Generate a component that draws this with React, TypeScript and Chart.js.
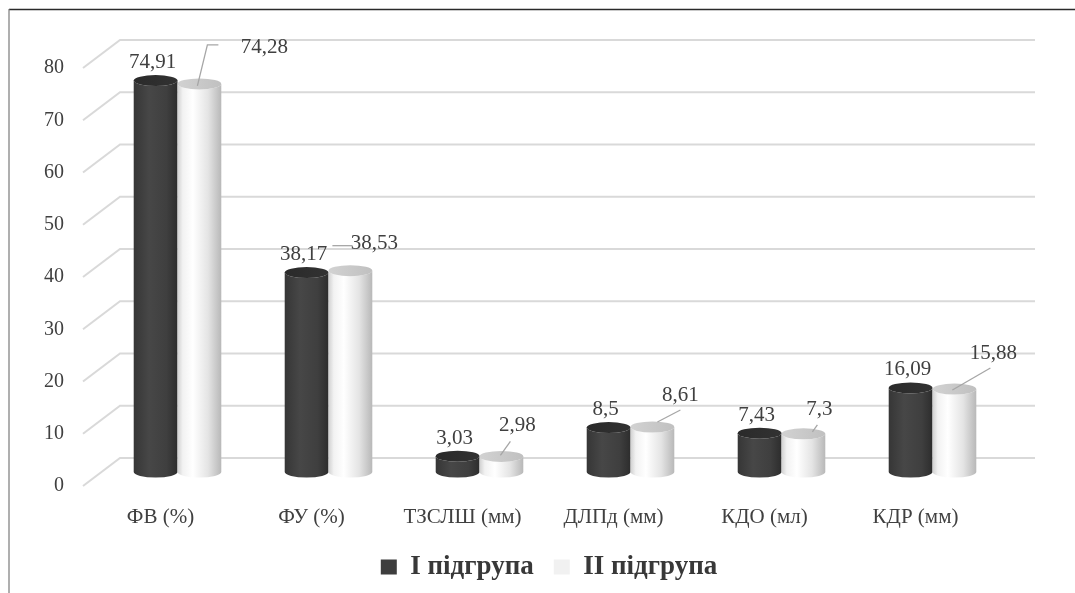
import React, { useEffect, useRef } from "react";
import { Chart, registerables } from "chart.js";

Chart.register(...registerables);

// ---- data ----
const categories = ["ФВ (%)", "ФУ (%)", "ТЗСЛШ (мм)", "ДЛПд (мм)", "КДО (мл)", "КДР (мм)"];
const group1Values = [74.91, 38.17, 3.03, 8.5, 7.43, 16.09];
const group2Values = [74.28, 38.53, 2.98, 8.61, 7.3, 15.88];
const seriesNames = ["І підгрупа", "ІІ підгрупа"];
const yTickValues = [0, 10, 20, 30, 40, 50, 60, 70, 80];

// ---- layout (label nudges relative to the top of each light cylinder) ----
const lightLabelShift: number[][] = [[65, -36], [24, -27], [16, -31], [28, -32], [16, -24], [39, -36]];
const lightLeaderPaths: number[][][] = [
  [[-2, 2], [8, -39], [19, -39]],
  [[-18, -25], [2, -25]],
  [[-1, -1], [9, -15]],
  [[5, -5], [28, -17]],
  [[9, -2], [14, -9]],
  [[-2, 1], [36, -21]],
];

const FONT = "'Liberation Serif', 'Times New Roman', serif";
const TEXT = "#404040";
const DEPTH_DX = 17;
const DEPTH_DY = -14;
const BACK_DX = 37;
const BACK_DY = -28;
const RY = 5.5;

const fmt = (v: number) => String(v).replace(".", ",");

function drawCylinder(
  ctx: CanvasRenderingContext2D,
  cx: number,
  top: number,
  base: number,
  w: number,
  stops: [number, string][],
  topStops: [number, string][]
) {
  const rx = w / 2;
  const g = ctx.createLinearGradient(cx - rx, 0, cx + rx, 0);
  stops.forEach(([o, c]) => g.addColorStop(o, c));
  ctx.beginPath();
  ctx.moveTo(cx - rx, top);
  ctx.lineTo(cx - rx, base);
  ctx.ellipse(cx, base, rx, RY, 0, Math.PI, 0, true);
  ctx.lineTo(cx + rx, top);
  ctx.ellipse(cx, top, rx, RY, 0, 0, Math.PI, false);
  ctx.closePath();
  ctx.fillStyle = g;
  ctx.fill();
  const tg = ctx.createLinearGradient(cx - rx, 0, cx + rx, 0);
  topStops.forEach(([o, c]) => tg.addColorStop(o, c));
  ctx.beginPath();
  ctx.ellipse(cx, top, rx, RY, 0, 0, Math.PI * 2);
  ctx.fillStyle = tg;
  ctx.fill();
}

const darkStops: [number, string][] = [[0, "#363636"], [0.35, "#474747"], [0.75, "#3f3f3f"], [1, "#2d2d2d"]];
const darkTop: [number, string][] = [[0, "#2a2a2a"], [1, "#323232"]];
const lightStops: [number, string][] = [[0, "#d0d0d0"], [0.12, "#f2f2f2"], [0.35, "#ffffff"], [0.7, "#e4e4e4"], [1, "#b8b8b8"]];
const lightTop: [number, string][] = [[0, "#d2d2d2"], [1, "#c0c0c0"]];

const cylinderPlugin = {
  id: "cyl3d",
  beforeDraw(chart: any) {
    const { ctx, width, height } = chart;
    ctx.save();
    ctx.fillStyle = "#ffffff";
    ctx.fillRect(0, 0, width, height);
    ctx.strokeStyle = "#2a2a2a";
    ctx.lineWidth = 1.5;
    ctx.beginPath();
    ctx.moveTo(9, 9.5);
    ctx.lineTo(width, 9.5);
    ctx.stroke();
    ctx.strokeStyle = "#7a7a7a";
    ctx.lineWidth = 1.2;
    ctx.beginPath();
    ctx.moveTo(9, 9);
    ctx.lineTo(9, height);
    ctx.stroke();
    ctx.restore();
  },
  beforeDatasetsDraw(chart: any) {
    const { ctx, chartArea, scales } = chart;
    const ys = scales.y;
    ctx.save();
    // 3D gridlines on back wall with side diagonals
    ctx.strokeStyle = "#d9d9d9";
    ctx.lineWidth = 2;
    yTickValues.forEach((v) => {
      const y = ys.getPixelForValue(v);
      ctx.beginPath();
      ctx.moveTo(chartArea.left - 2, y);
      ctx.lineTo(chartArea.left + BACK_DX - 2, y + BACK_DY);
      ctx.lineTo(chartArea.right + 44, y + BACK_DY);
      ctx.stroke();
    });
    const m0 = chart.getDatasetMeta(0);
    const m1 = chart.getDatasetMeta(1);
    categories.forEach((_, i) => {
      const a = m0.data[i].getProps(["x", "y", "base", "width"], true);
      const b = m1.data[i].getProps(["x", "y", "base", "width"], true);
      drawCylinder(ctx, a.x + DEPTH_DX, a.y + DEPTH_DY, a.base + DEPTH_DY, a.width, darkStops, darkTop);
      drawCylinder(ctx, b.x + DEPTH_DX, b.y + DEPTH_DY, b.base + DEPTH_DY, b.width, lightStops, lightTop);
    });
    // data labels
    ctx.font = `21px ${FONT}`;
    ctx.fillStyle = TEXT;
    ctx.textAlign = "center";
    ctx.textBaseline = "middle";
    categories.forEach((_, i) => {
      const a = m0.data[i].getProps(["x", "y"], true);
      const b = m1.data[i].getProps(["x", "y"], true);
      const ax = a.x + DEPTH_DX;
      const ay = a.y + DEPTH_DY;
      ctx.fillText(fmt(group1Values[i]), ax - 3, ay - 18);
      const bx = b.x + DEPTH_DX;
      const by = b.y + DEPTH_DY;
      const [sx, sy] = lightLabelShift[i];
      ctx.fillText(fmt(group2Values[i]), bx + sx, by + sy);
      const path = lightLeaderPaths[i];
      ctx.strokeStyle = "#a6a6a6";
      ctx.lineWidth = 1.3;
      ctx.beginPath();
      path.forEach(([px, py], k) => {
        if (k === 0) ctx.moveTo(bx + px, by + py);
        else ctx.lineTo(bx + px, by + py);
      });
      ctx.stroke();
    });
    ctx.restore();
    return false;
  },
};

export default function App() {
  const ref = useRef<HTMLCanvasElement | null>(null);
  useEffect(() => {
    if (!ref.current) return;
    const chart = new Chart(ref.current, {
      type: "bar",
      data: {
        labels: categories,
        datasets: [
          { label: seriesNames[0], data: group1Values, backgroundColor: "#3d3d3d", borderWidth: 0 },
          { label: seriesNames[1], data: group2Values, backgroundColor: "#f1f1f1", borderWidth: 0 },
        ],
      },
      options: {
        animation: false,
        responsive: true,
        maintainAspectRatio: false,
        events: [],
        layout: { padding: { left: 23, right: 0, top: 68, bottom: 2.5 } },
        datasets: { bar: { categoryPercentage: 0.58, barPercentage: 1 } },
        scales: {
          x: {
            position: "bottom",
            grid: { display: false, drawTicks: false },
            border: { display: false },
            ticks: { padding: 19, color: TEXT, font: { family: FONT, size: 21 }, maxRotation: 0, autoSkip: false },
            afterFit: (s: any) => { s.height = 47.5; },
          },
          y: {
            position: "left",
            min: 0,
            max: 80,
            grid: { display: false, drawTicks: false },
            border: { display: false },
            ticks: { padding: 21, color: TEXT, font: { family: FONT, size: 20 } },
            afterBuildTicks: (s: any) => { s.ticks = yTickValues.map((v) => ({ value: v })); },
            afterFit: (s: any) => { s.width = 62; },
          },
          y2: {
            type: "linear",
            position: "right",
            grid: { display: false, drawTicks: false },
            border: { display: false },
            ticks: { display: false },
            afterFit: (s: any) => { s.width = 84; },
          },
        },
        plugins: {
          legend: {
            position: "bottom",
            labels: {
              font: { family: FONT, size: 27, weight: "bold" },
              color: "#383838",
              boxWidth: 16,
              boxHeight: 15,
              padding: 20,
            },
          },
          tooltip: { enabled: false },
        },
      } as any,
      plugins: [cylinderPlugin as any],
    });
    return () => chart.destroy();
  }, []);
  return (
    <div style={{ position: "fixed", left: 0, top: 0, width: 1075, height: 593, background: "#fff" }}>
      <canvas ref={ref} />
    </div>
  );
}
